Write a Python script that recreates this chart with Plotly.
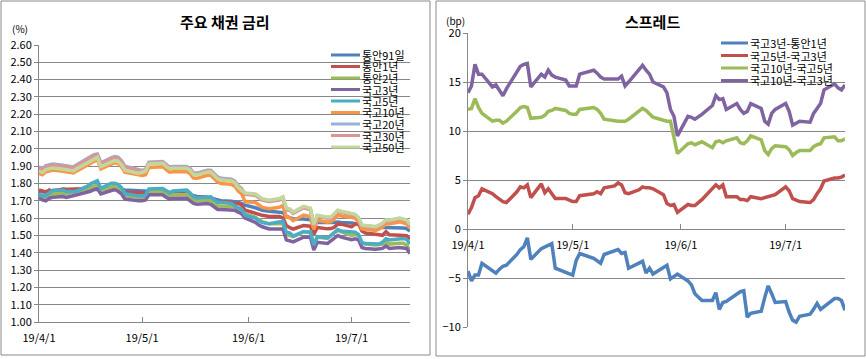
import plotly.graph_objects as go

W, H = 866, 359

dates = (
    ["2019-04-%02d" % d for d in [1, 2, 3, 4, 5, 8, 9, 10, 11, 12, 15, 16, 17, 18, 19, 22, 23, 24, 25, 26, 29, 30]]
    + ["2019-05-%02d" % d for d in [1, 2, 3, 7, 8, 9, 10, 13, 14, 15, 16, 17, 20, 21, 22, 23, 24, 27, 28, 29, 30, 31]]
    + ["2019-06-%02d" % d for d in [3, 4, 5, 7, 10, 11, 12, 13, 14, 17, 18, 19, 20, 21, 24, 25, 26, 27, 28]]
    + ["2019-07-%02d" % d for d in [1, 2, 3, 4, 5, 8, 9, 10, 11, 12, 15, 16, 17, 18]]
)

tick_dates = ["2019-04-01", "2019-05-01", "2019-06-01", "2019-07-01"]

# ---- left chart: yields (%) ----
rate_91d = [1.750, 1.752, 1.758, 1.760, 1.762, 1.765, 1.765, 1.765, 1.765, 1.765, 1.765, 1.766, 1.768, 1.770, 1.770, 1.770, 1.770, 1.768, 1.765, 1.762, 1.760, 1.760,
            1.757, 1.755, 1.755, 1.752, 1.750, 1.748, 1.745, 1.742, 1.740, 1.735, 1.730, 1.725, 1.720, 1.715, 1.710, 1.705, 1.700, 1.697, 1.695, 1.690, 1.685, 1.675,
            1.660, 1.650, 1.645, 1.640, 1.635, 1.632, 1.610, 1.600, 1.595, 1.595, 1.593, 1.590, 1.575, 1.575, 1.572, 1.572, 1.575, 1.578, 1.575,
            1.572, 1.570, 1.565, 1.555, 1.550, 1.548, 1.548, 1.548, 1.548, 1.545, 1.545, 1.543, 1.540, 1.525]
rate_1y = [1.763, 1.758, 1.747, 1.762, 1.755, 1.768, 1.765, 1.766, 1.763, 1.767, 1.771, 1.776, 1.783, 1.779, 1.771, 1.775, 1.783, 1.771, 1.755, 1.750, 1.744, 1.746,
           1.747, 1.737, 1.760, 1.765, 1.753, 1.745, 1.741, 1.739, 1.736, 1.725, 1.709, 1.720, 1.719, 1.713, 1.710, 1.690, 1.696, 1.690, 1.682, 1.686, 1.674, 1.646,
           1.628, 1.617, 1.616, 1.610, 1.610, 1.602, 1.557, 1.545, 1.537, 1.557, 1.554, 1.553, 1.505, 1.546, 1.538, 1.540, 1.548, 1.566, 1.565,
           1.549, 1.565, 1.568, 1.525, 1.514, 1.507, 1.502, 1.501, 1.522, 1.504, 1.501, 1.501, 1.498, 1.478]
rate_2y = [1.740, 1.725, 1.720, 1.735, 1.740, 1.745, 1.740, 1.745, 1.745, 1.750, 1.765, 1.775, 1.785, 1.790, 1.760, 1.775, 1.785, 1.775, 1.760, 1.730, 1.720, 1.720,
           1.720, 1.725, 1.755, 1.755, 1.740, 1.730, 1.735, 1.737, 1.735, 1.720, 1.705, 1.700, 1.704, 1.700, 1.685, 1.670, 1.670, 1.670, 1.665, 1.655, 1.645, 1.625,
           1.605, 1.590, 1.580, 1.567, 1.567, 1.567, 1.505, 1.500, 1.493, 1.520, 1.520, 1.520, 1.445, 1.490, 1.484, 1.500, 1.520, 1.530, 1.520,
           1.500, 1.505, 1.500, 1.455, 1.450, 1.445, 1.445, 1.450, 1.465, 1.450, 1.455, 1.455, 1.445, 1.412]
rate_3y = [1.720, 1.705, 1.700, 1.715, 1.720, 1.725, 1.720, 1.725, 1.725, 1.730, 1.745, 1.755, 1.765, 1.770, 1.740, 1.755, 1.765, 1.755, 1.740, 1.710, 1.700, 1.700,
           1.700, 1.705, 1.735, 1.735, 1.720, 1.710, 1.715, 1.717, 1.715, 1.700, 1.685, 1.680, 1.684, 1.680, 1.665, 1.650, 1.650, 1.650, 1.645, 1.635, 1.625, 1.600,
           1.575, 1.560, 1.550, 1.537, 1.537, 1.537, 1.475, 1.470, 1.463, 1.490, 1.490, 1.490, 1.415, 1.460, 1.454, 1.470, 1.490, 1.500, 1.490,
           1.475, 1.480, 1.475, 1.430, 1.425, 1.420, 1.420, 1.425, 1.440, 1.425, 1.430, 1.430, 1.425, 1.395]
rate_5y = [1.735, 1.727, 1.732, 1.749, 1.761, 1.761, 1.753, 1.755, 1.753, 1.757, 1.783, 1.798, 1.807, 1.815, 1.772, 1.801, 1.802, 1.796, 1.776, 1.741, 1.731, 1.729,
           1.728, 1.733, 1.769, 1.771, 1.758, 1.746, 1.757, 1.761, 1.762, 1.745, 1.722, 1.716, 1.724, 1.723, 1.707, 1.692, 1.691, 1.685, 1.671, 1.659, 1.650, 1.617,
           1.600, 1.584, 1.574, 1.567, 1.578, 1.582, 1.517, 1.515, 1.496, 1.523, 1.520, 1.520, 1.444, 1.493, 1.485, 1.502, 1.523, 1.534, 1.525,
           1.518, 1.519, 1.506, 1.459, 1.453, 1.447, 1.450, 1.461, 1.481, 1.474, 1.482, 1.482, 1.478, 1.450]
rate_10y = [1.859, 1.851, 1.868, 1.873, 1.878, 1.870, 1.867, 1.867, 1.861, 1.873, 1.906, 1.921, 1.933, 1.939, 1.885, 1.913, 1.920, 1.917, 1.897, 1.865, 1.852, 1.846,
            1.846, 1.851, 1.893, 1.897, 1.879, 1.865, 1.868, 1.870, 1.868, 1.856, 1.831, 1.830, 1.847, 1.847, 1.827, 1.808, 1.800, 1.795, 1.784, 1.757, 1.740, 1.695,
            1.690, 1.674, 1.662, 1.654, 1.663, 1.673, 1.607, 1.603, 1.585, 1.618, 1.612, 1.608, 1.535, 1.588, 1.577, 1.580, 1.597, 1.618, 1.612,
            1.603, 1.600, 1.581, 1.538, 1.535, 1.529, 1.538, 1.548, 1.568, 1.567, 1.578, 1.574, 1.567, 1.542]
rate_20y = [1.894, 1.886, 1.903, 1.908, 1.913, 1.905, 1.902, 1.902, 1.896, 1.908, 1.941, 1.956, 1.966, 1.970, 1.920, 1.948, 1.955, 1.952, 1.932, 1.900, 1.887, 1.881,
            1.876, 1.881, 1.923, 1.927, 1.909, 1.895, 1.898, 1.900, 1.898, 1.886, 1.861, 1.860, 1.877, 1.877, 1.857, 1.838, 1.830, 1.825, 1.814, 1.787, 1.770, 1.740,
            1.735, 1.719, 1.707, 1.699, 1.708, 1.718, 1.652, 1.648, 1.630, 1.663, 1.657, 1.653, 1.560, 1.613, 1.602, 1.605, 1.622, 1.643, 1.637,
            1.623, 1.620, 1.601, 1.558, 1.555, 1.549, 1.558, 1.568, 1.588, 1.587, 1.598, 1.594, 1.587, 1.562]
rate_30y = [1.889, 1.881, 1.898, 1.903, 1.908, 1.900, 1.897, 1.897, 1.891, 1.903, 1.936, 1.951, 1.961, 1.965, 1.915, 1.943, 1.950, 1.947, 1.927, 1.895, 1.882, 1.876,
            1.871, 1.876, 1.918, 1.922, 1.904, 1.890, 1.893, 1.895, 1.893, 1.881, 1.856, 1.855, 1.872, 1.872, 1.852, 1.833, 1.825, 1.820, 1.809, 1.782, 1.765, 1.737,
            1.732, 1.716, 1.704, 1.696, 1.705, 1.715, 1.649, 1.645, 1.627, 1.660, 1.654, 1.650, 1.557, 1.610, 1.599, 1.602, 1.619, 1.640, 1.634,
            1.620, 1.617, 1.598, 1.555, 1.552, 1.546, 1.555, 1.565, 1.585, 1.584, 1.595, 1.591, 1.584, 1.559]
rate_50y = [1.871, 1.863, 1.880, 1.885, 1.890, 1.882, 1.879, 1.879, 1.873, 1.885, 1.918, 1.933, 1.945, 1.951, 1.897, 1.925, 1.932, 1.929, 1.909, 1.877, 1.864, 1.858,
            1.866, 1.871, 1.913, 1.917, 1.899, 1.885, 1.888, 1.890, 1.888, 1.876, 1.851, 1.850, 1.867, 1.867, 1.847, 1.828, 1.820, 1.815, 1.804, 1.777, 1.760, 1.745,
            1.740, 1.724, 1.712, 1.704, 1.713, 1.723, 1.657, 1.653, 1.635, 1.668, 1.662, 1.658, 1.563, 1.616, 1.605, 1.608, 1.625, 1.646, 1.640,
            1.625, 1.622, 1.603, 1.560, 1.557, 1.551, 1.560, 1.570, 1.590, 1.589, 1.600, 1.596, 1.589, 1.564]

rate_names = ["통안91일", "통안1년", "통안2년", "국고3년", "국고5년", "국고10년", "국고20년", "국고30년", "국고50년"]
rate_series = [rate_91d, rate_1y, rate_2y, rate_3y, rate_5y, rate_10y, rate_20y, rate_30y, rate_50y]
rate_colors = ["#4F81BD", "#C0504D", "#9BBB59", "#8064A2", "#4BACC6", "#F79646", "#95B3D7", "#D99694", "#C3D69B"]

# ---- right chart: spreads (bp) ----
spr_3y_1y = [-4.3, -5.3, -4.7, -4.7, -3.5, -4.3, -4.5, -4.1, -3.8, -3.7, -2.6, -2.1, -1.8, -0.9, -3.1, -2.0, -1.8, -1.6, -1.5, -4.0, -4.4, -4.6,
             -4.7, -3.2, -2.5, -3.0, -3.3, -3.5, -2.6, -2.2, -2.1, -2.5, -2.4, -4.0, -3.5, -3.3, -4.5, -4.0, -4.6, -4.0, -3.7, -5.1, -4.9, -4.6,
             -5.3, -5.7, -6.6, -7.3, -7.3, -6.5, -8.2, -7.5, -7.4, -6.7, -6.4, -6.3, -9.0, -8.6, -8.4, -7.0, -5.8, -6.6, -7.5,
             -7.4, -8.5, -9.3, -9.5, -8.9, -8.7, -8.2, -7.6, -8.2, -7.9, -7.1, -7.1, -7.3, -8.3]
spr_5y_3y = [1.5, 2.2, 3.2, 3.4, 4.1, 3.6, 3.3, 3.0, 2.8, 2.7, 3.8, 4.3, 4.2, 4.5, 3.2, 4.6, 3.7, 4.1, 3.6, 3.1, 3.1, 2.9,
             2.8, 2.8, 3.4, 3.6, 3.8, 3.6, 4.2, 4.4, 4.7, 4.5, 3.7, 3.6, 4.0, 4.3, 4.2, 4.2, 4.1, 3.5, 2.6, 2.4, 2.5, 1.7,
             2.5, 2.4, 2.4, 3.0, 4.1, 4.5, 4.2, 4.5, 3.3, 3.3, 3.0, 3.0, 2.9, 3.3, 3.1, 3.2, 3.3, 3.4, 3.5,
             4.3, 3.9, 3.1, 2.9, 2.8, 2.7, 3.0, 3.6, 4.1, 4.9, 5.2, 5.2, 5.3, 5.5]
spr_10y_5y = [12.2, 12.3, 13.3, 12.4, 11.8, 11.0, 11.1, 11.1, 10.8, 11.0, 12.0, 12.4, 12.5, 12.4, 11.3, 11.4, 11.6, 12.0, 12.1, 12.3, 12.1, 11.8,
              11.7, 11.7, 12.2, 12.4, 12.2, 11.8, 11.2, 11.0, 11.0, 11.0, 11.0, 11.2, 12.0, 12.3, 12.1, 11.8, 11.4, 11.1, 11.0, 11.0, 9.5, 7.7,
              8.7, 8.8, 8.6, 8.9, 8.3, 8.9, 9.0, 8.8, 9.0, 9.3, 8.8, 8.7, 9.0, 9.5, 9.1, 8.0, 7.6, 8.2, 8.5,
              8.4, 8.1, 7.5, 7.8, 8.0, 8.0, 8.4, 8.6, 8.7, 9.3, 9.4, 9.0, 9.0, 9.2]
spr_10y_3y = [13.9, 14.6, 16.8, 15.8, 15.8, 14.5, 14.7, 14.2, 13.6, 14.3, 16.1, 16.6, 16.8, 16.9, 14.5, 15.8, 15.5, 16.2, 15.7, 15.5, 15.2, 14.6,
              14.6, 14.6, 15.8, 16.2, 15.9, 15.5, 15.3, 15.3, 15.3, 15.6, 14.6, 15.0, 16.3, 16.7, 16.2, 15.8, 15.0, 14.5, 13.9, 12.2, 11.5, 9.5,
              11.5, 11.4, 11.2, 11.7, 12.6, 13.6, 13.2, 13.3, 12.2, 12.8, 12.2, 11.8, 12.0, 12.8, 12.3, 11.0, 10.7, 11.8, 12.2,
              12.8, 12.0, 10.6, 10.8, 11.0, 10.9, 11.8, 12.3, 12.8, 14.2, 14.8, 14.4, 14.2, 14.7]

spr_names = ["국고3년-통안1년", "국고5년-국고3년", "국고10년-국고5년", "국고10년-국고3년"]
spr_series = [spr_3y_1y, spr_5y_3y, spr_10y_5y, spr_10y_3y]
spr_colors = ["#4F81BD", "#C0504D", "#9BBB59", "#8064A2"]

FONT = "Noto Sans CJK KR, Noto Sans, sans-serif"
GRID = "#878787"


def px(x):
    return x / W


def py(y):
    return 1 - y / H


fig = go.Figure()
for name, vals, col in zip(rate_names, rate_series, rate_colors):
    fig.add_trace(go.Scatter(x=dates, y=vals, name=name, mode="lines",
                             line=dict(color=col, width=3.5), xaxis="x", yaxis="y",
                             showlegend=False))
for name, vals, col in zip(spr_names, spr_series, spr_colors):
    fig.add_trace(go.Scatter(x=dates, y=vals, name=name, mode="lines",
                             line=dict(color=col, width=3.5), xaxis="x2", yaxis="y2",
                             showlegend=False))

y2_dom = [py(327), py(33)]
y2_rng = [-10, 20]
zero_pos = y2_dom[0] + (0 - y2_rng[0]) / (y2_rng[1] - y2_rng[0]) * (y2_dom[1] - y2_dom[0])

axis_common = dict(tickfont=dict(family=FONT, size=11, color="black"), linecolor=GRID,
                   tickcolor=GRID, zeroline=False, automargin=False)

fig.update_layout(
    template="none",
    width=W, height=H, margin=dict(l=0, r=0, t=0, b=0, pad=0), autosize=False,
    paper_bgcolor="white", plot_bgcolor="rgba(0,0,0,0)",
    font=dict(family=FONT, size=11, color="black"),
    xaxis=dict(domain=[px(39), px(410)], anchor="y", type="date",
               range=["2019-04-01", "2019-07-18"], tickvals=tick_dates,
               tickformat="%y/%-m/%-d", ticks="inside", ticklen=5,
               showline=True, showgrid=False, ticklabelstandoff=6, **axis_common),
    yaxis=dict(domain=[py(322), py(45)], anchor="x", range=[1.0, 2.6], dtick=0.1,
               tick0=1.0, tickformat=".2f", showgrid=True, gridcolor=GRID, gridwidth=1,
               showline=True, ticks="outside", ticklen=4, **axis_common),
    xaxis2=dict(domain=[px(468), px(845)], anchor="free", position=zero_pos, type="date",
                range=["2019-04-01", "2019-07-18"], tickvals=tick_dates,
                tickformat="%y/%-m/%-d", ticks="inside", ticklen=5,
                showline=True, showgrid=False, ticklabelstandoff=6, **axis_common),
    yaxis2=dict(domain=y2_dom, anchor="x2", range=y2_rng, dtick=5, tick0=0,
                showgrid=True, gridcolor=GRID, gridwidth=1,
                showline=True, ticks="outside", ticklen=4, **axis_common),
)

shapes = []
annotations = []
# panel borders
shapes.append(dict(type="rect", xref="paper", yref="paper", x0=px(1), x1=px(430), y0=py(355), y1=py(1),
                   line=dict(color="#8a8a8a", width=1)))
shapes.append(dict(type="rect", xref="paper", yref="paper", x0=px(436), x1=px(865), y0=py(356), y1=py(1),
                   line=dict(color="#8a8a8a", width=1)))

# titles and unit labels
annotations.append(dict(text="<b>주요 채권 금리</b>", x=px(225), y=py(22), xref="paper", yref="paper",
                        showarrow=False, xanchor="center", yanchor="middle",
                        font=dict(family=FONT, size=15, color="black")))
annotations.append(dict(text="<b>스프레드</b>", x=px(652), y=py(21), xref="paper", yref="paper",
                        showarrow=False, xanchor="center", yanchor="middle",
                        font=dict(family=FONT, size=15, color="black")))
annotations.append(dict(text="(%)", x=px(10), y=py(28), xref="paper", yref="paper",
                        showarrow=False, xanchor="left", yanchor="middle",
                        font=dict(family=FONT, size=10, color="black")))
annotations.append(dict(text="(bp)", x=px(444), y=py(20), xref="paper", yref="paper",
                        showarrow=False, xanchor="left", yanchor="middle",
                        font=dict(family=FONT, size=10, color="black")))

# legends (drawn manually to match tight Excel spacing)
for i, (name, col) in enumerate(zip(rate_names, rate_colors)):
    yy = 55 + i * 11.5
    shapes.append(dict(type="line", xref="paper", yref="paper", x0=px(331), x1=px(360),
                       y0=py(yy), y1=py(yy), line=dict(color=col, width=3)))
    annotations.append(dict(text=name, x=px(360), y=py(yy), xref="paper", yref="paper",
                            showarrow=False, xanchor="left", yanchor="middle",
                            font=dict(family=FONT, size=11, color="black")))
for i, (name, col) in enumerate(zip(spr_names, spr_colors)):
    yy = 43 + i * 12.5
    shapes.append(dict(type="line", xref="paper", yref="paper", x0=px(721), x1=px(748),
                       y0=py(yy), y1=py(yy), line=dict(color=col, width=3)))
    annotations.append(dict(text=name, x=px(748), y=py(yy), xref="paper", yref="paper",
                            showarrow=False, xanchor="left", yanchor="middle",
                            font=dict(family=FONT, size=11, color="black")))

fig.update_layout(shapes=shapes, annotations=annotations)
fig.write_html("out.html", config={"displayModeBar": False, "staticPlot": True},
               post_script="document.body.style.margin='0';document.body.style.padding='0';"
                           "document.documentElement.style.overflow='hidden';")
